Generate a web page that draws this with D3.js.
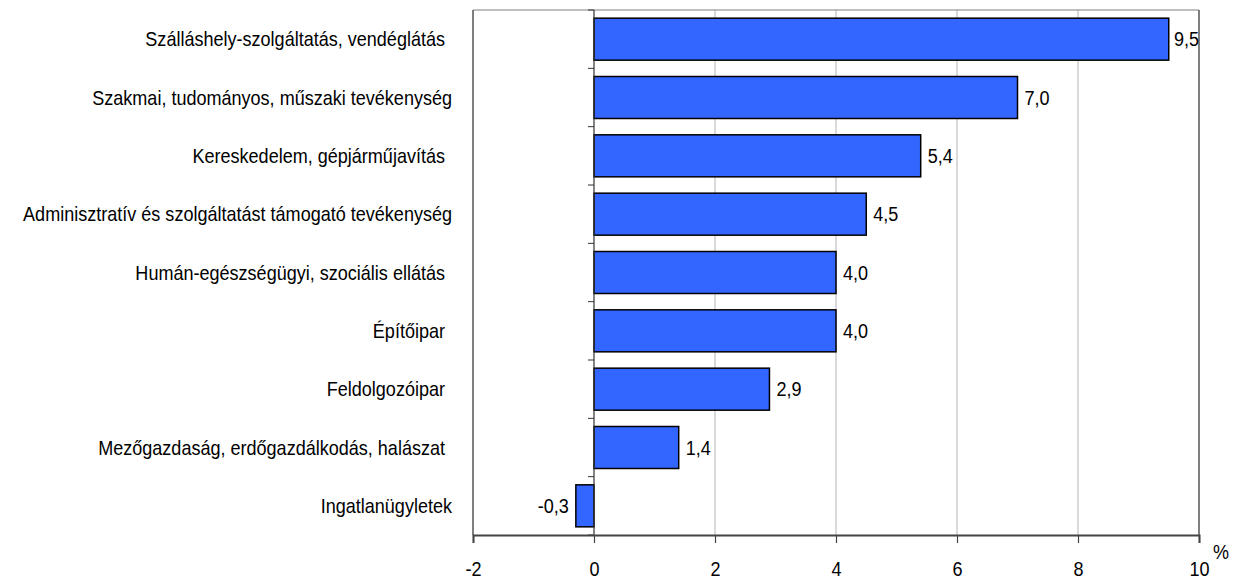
<!DOCTYPE html>
<html><head><meta charset="utf-8">
<script src="https://cdn.jsdelivr.net/npm/d3@7"></script>
<style>body{margin:0;background:#fff}svg{display:block}text{font-family:"Liberation Sans",Arial,sans-serif}</style>
</head><body>
<svg id="c" width="1234" height="581"></svg>
<script>
const categories = [
  "Szálláshely-szolgáltatás, vendéglátás",
  "Szakmai, tudományos, műszaki tevékenység",
  "Kereskedelem, gépjárműjavítás",
  "Adminisztratív és szolgáltatást támogató tevékenység",
  "Humán-egészségügyi, szociális ellátás",
  "Építőipar",
  "Feldolgozóipar",
  "Mezőgazdaság, erdőgazdálkodás, halászat",
  "Ingatlanügyletek"
];
const values = [9.5, 7.0, 5.4, 4.5, 4.0, 4.0, 2.9, 1.4, -0.3];
const labelTrail = [1, 0, 1, 0, 1, 1, 1, 1, 0];
const xTicks = [-2, 0, 2, 4, 6, 8, 10];
const unit = "%";

const FS = 20.5, SX = 0.88;
const svg = d3.select("#c");
const L = 473, R = 1199, T = 10, B = 535;
const x = d3.scaleLinear().domain([-2, 10]).range([L, R]);
const y = d3.scaleBand().domain(categories).range([T, B]).paddingInner(0.28).paddingOuter(0.14);
const fmt = v => v.toFixed(1).replace(".", ",");

// gridlines
svg.append("g").selectAll("line").data([2, 4, 6, 8]).join("line")
  .attr("x1", d => x(d)).attr("x2", d => x(d)).attr("y1", T).attr("y2", B)
  .attr("stroke", "#b3b3b3").attr("stroke-width", 1);

// frame
svg.append("line").attr("x1", L).attr("x2", R).attr("y1", T).attr("y2", T).attr("stroke", "#808080").attr("stroke-width", 1.2);
svg.append("line").attr("x1", L).attr("x2", L).attr("y1", T).attr("y2", B).attr("stroke", "#555").attr("stroke-width", 1.5);
svg.append("line").attr("x1", R).attr("x2", R).attr("y1", T).attr("y2", B).attr("stroke", "#555").attr("stroke-width", 1.5);

// bars
svg.append("g").selectAll("rect").data(values).join("rect")
  .attr("x", (d) => x(Math.min(0, d)))
  .attr("width", d => Math.abs(x(d) - x(0)))
  .attr("y", (d, i) => y(categories[i]))
  .attr("height", y.bandwidth())
  .attr("fill", "#3366ff").attr("stroke", "#000").attr("stroke-width", 1.5);

// zero axis with category ticks
const step = (B - T) / categories.length;
svg.append("line").attr("x1", x(0)).attr("x2", x(0)).attr("y1", T).attr("y2", B).attr("stroke", "#333").attr("stroke-width", 1.2);
svg.append("g").selectAll("line").data(d3.range(categories.length + 1)).join("line")
  .attr("x1", x(0) - 6).attr("x2", x(0)).attr("y1", i => T + i * step).attr("y2", i => T + i * step)
  .attr("stroke", "#333").attr("stroke-width", 1);

// bottom axis
const ax = svg.append("g").attr("transform", `translate(0,${B})`)
  .call(d3.axisBottom(x).tickValues(xTicks).tickSize(8).tickPadding(18).tickFormat(d => d));
ax.select(".domain").attr("stroke", "#444").attr("stroke-width", 2);
ax.selectAll(".tick line").attr("stroke", "#444").attr("stroke-width", 1.2);
ax.selectAll("text").attr("font-size", FS).attr("fill", "#000")
  .attr("font-family", "Liberation Sans, Arial, sans-serif")
  .attr("transform", `scale(${SX},1)`);

svg.append("text").attr("transform", `translate(1221,559) scale(${SX},1)`)
  .attr("text-anchor", "middle").attr("font-size", FS).text(unit);

// category labels
svg.append("g").selectAll("text").data(categories).join("text")
  .attr("transform", (d, i) => `translate(${labelTrail[i] ? 445 : 452},${y(d) + y.bandwidth() / 2}) scale(${SX},1)`)
  .attr("dy", "0.35em").attr("text-anchor", "end").attr("font-size", FS)
  .text(d => d);

// value labels
svg.append("g").selectAll("text").data(values).join("text")
  .attr("dy", "0.35em").attr("text-anchor", d => d >= 0 ? "start" : "end").attr("font-size", FS)
  .text(fmt)
  .each(function (d, i) {
    const w = this.getComputedTextLength() * SX;
    let px = d >= 0 ? x(d) + 7 : x(d) - 7;
    if (d >= 0 && px + w > R) px = Math.max(x(d) + 1.5, R - w);
    const py = y(categories[i]) + y.bandwidth() / 2;
    d3.select(this).attr("transform", `translate(${px},${py}) scale(${SX},1)`);
  });
</script>
</body></html>
